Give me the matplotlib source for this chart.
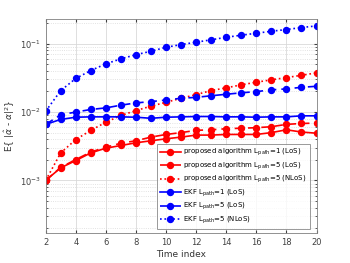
import numpy as np
import matplotlib
matplotlib.use("Agg")
import matplotlib.pyplot as plt

# indice de tiempo
t = list(range(2, 21))

# algoritmo propuesto
prop_l1_los = [0.001, 0.00153, 0.00195, 0.00253, 0.00296, 0.00324, 0.00355, 0.0038, 0.00406, 0.0043,
               0.0046, 0.0046, 0.0047, 0.0047, 0.0047, 0.0050, 0.0055, 0.0051, 0.0049]
prop_l5_los = [0.001, 0.00155, 0.00202, 0.0026, 0.00306, 0.0035, 0.0038, 0.0043, 0.0047, 0.0050,
               0.0054, 0.0055, 0.0057, 0.0058, 0.0059, 0.0061, 0.0066, 0.0068, 0.0069]
prop_l5_nlos = [0.001, 0.00253, 0.00396, 0.0054, 0.0071, 0.0089, 0.0105, 0.0122, 0.0139, 0.0159,
                0.018, 0.0206, 0.0226, 0.025, 0.0273, 0.0296, 0.0319, 0.0345, 0.0374]

# EKF
ekf_l1_los = [0.0066, 0.0078, 0.0084, 0.0085, 0.0085, 0.0085, 0.0084, 0.0081, 0.0084, 0.0085,
              0.0086, 0.0086, 0.0085, 0.0085, 0.0084, 0.0085, 0.0085, 0.0088, 0.0088]
ekf_l5_los = [0.0066, 0.0091, 0.0100, 0.0109, 0.0115, 0.0126, 0.0136, 0.0142, 0.0150, 0.0159,
              0.0164, 0.0173, 0.0182, 0.0191, 0.0199, 0.0211, 0.0218, 0.0230, 0.0238]
ekf_l5_nlos = [0.0103, 0.0206, 0.031, 0.0405, 0.0507, 0.060, 0.069, 0.0775, 0.0886, 0.097,
               0.105, 0.114, 0.124, 0.133, 0.142, 0.152, 0.161, 0.172, 0.182]

etiquetas = [r'proposed algorithm L$_{\rm path}$=1 (LoS)',
             r'proposed algorithm L$_{\rm path}$=5 (LoS)',
             r'proposed algorithm L$_{\rm path}$=5 (NLoS)',
             r'EKF L$_{\rm path}$=1 (LoS)',
             r'EKF L$_{\rm path}$=5 (LoS)',
             r'EKF L$_{\rm path}$=5 (NLoS)']

fig = plt.figure(figsize=(3.5, 2.63), dpi=100)
ax = fig.add_axes([0.1306, 0.114, 0.7737, 0.814])

series = [(prop_l1_los, 'r', '-'), (prop_l5_los, 'r', (0, (5, 3))), (prop_l5_nlos, 'r', ':'),
          (ekf_l1_los, 'b', '-'), (ekf_l5_los, 'b', (0, (5, 3))), (ekf_l5_nlos, 'b', ':')]
for (datos, c, ls), lab in zip(series, etiquetas):
    ax.plot(t, datos, color=c, linestyle=ls, marker='o', markersize=4.3, linewidth=1.2, label=lab)

ax.set_yscale('log')
ax.set_xlim(2, 20)
ax.set_ylim(1.7e-4, 0.23)
ax.set_xticks(range(2, 21, 2))
ax.set_yticks([1e-3, 1e-2, 1e-1])
ax.grid(True, which='major', color='0.85', linewidth=0.6)
ax.grid(True, which='minor', axis='y', color='0.85', linestyle=':', linewidth=0.6)
ax.tick_params(which='both', direction='in', labelsize=6, colors='0.25', length=2.5, top=True, right=True)
ax.tick_params(which='minor', length=1.5)
for s in ax.spines.values():
    s.set_color('0.5')
    s.set_linewidth(0.6)

ax.set_xlabel('Time index', fontsize=6.5, color='0.2', labelpad=2)
ax.set_ylabel(r'E{ $|\hat{\alpha}$ - $\alpha|^2$}', fontsize=6.5, color='0.2', labelpad=2)

leg = ax.legend(loc='lower right', fontsize=5, frameon=True, fancybox=False, edgecolor='0.5',
                handlelength=3.0, borderpad=0.45, labelspacing=0.3, handletextpad=0.4,
                borderaxespad=0, bbox_to_anchor=(0.976, 0.019))
leg.get_frame().set_linewidth(0.7)

fig.savefig('out.png', dpi=100)
